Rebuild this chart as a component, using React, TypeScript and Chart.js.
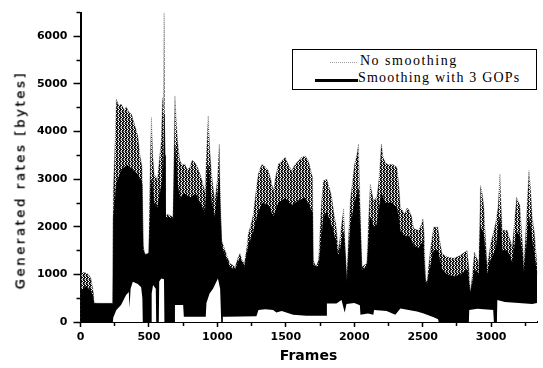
import React, { useEffect, useRef } from 'react';
import { Chart, registerables } from 'chart.js';

Chart.register(...registerables);

// Frame axis and rate axis limits / tick steps
const frameMax = 3340;
const frameStep = 250;
const frameLabelStep = 500;
const rateMax = 6500;
const rateStep = 500;
const rateLabelStep = 1000;

// "No smoothing": upper envelope of the per-frame rates [frame, bytes]
const noSmoothingPeaks: [number, number][] = [
  [0, 1000], [10, 1050], [40, 1030], [60, 1000], [79, 900], [95, 600], [99, 400], [150, 390], [236, 390],
  [240, 2800], [250, 3600], [262, 4680], [280, 4550], [299, 4580], [320, 4450], [335, 4520], [355, 4400],
  [372, 4370], [401, 4090], [420, 3900], [433, 3530], [450, 3250], [458, 1600], [470, 1440], [485, 1400],
  [499, 1470], [510, 3500], [518, 4300], [528, 3500], [538, 3110], [562, 2990], [580, 3530], [590, 3800],
  [599, 4710], [606, 4500], [611, 6500], [616, 3200], [621, 2270], [650, 2250], [677, 2200], [684, 3800],
  [690, 4750], [700, 4200], [709, 3810], [726, 3390], [745, 3300], [763, 3320], [780, 3200], [799, 3250],
  [815, 3400], [836, 3350], [855, 3250], [873, 3110], [890, 2950], [909, 2730], [920, 3500], [933, 4330],
  [945, 3600], [958, 3110], [970, 2800], [982, 2550], [1000, 3000], [1014, 3740], [1022, 2500], [1031, 1715],
  [1056, 1506], [1075, 1350], [1092, 1230], [1110, 1200], [1129, 1157], [1150, 1350], [1165, 1440],
  [1180, 1300], [1197, 1230], [1212, 1500], [1226, 1855], [1245, 2050], [1263, 2270], [1280, 2700],
  [1299, 3110], [1315, 3250], [1329, 3320], [1350, 3250], [1373, 3180], [1390, 3000], [1409, 2760],
  [1425, 3050], [1446, 3320], [1470, 3380], [1495, 3460], [1520, 3300], [1543, 3180], [1565, 3300],
  [1592, 3390], [1616, 3460], [1641, 3490], [1665, 3390], [1695, 3040], [1700, 1300], [1720, 1160],
  [1739, 1297], [1760, 2500], [1775, 2970], [1799, 3000], [1820, 2800], [1836, 2620], [1850, 2300],
  [1865, 2070], [1885, 1510], [1905, 2000], [1922, 2380], [1935, 1500], [1946, 880], [1958, 1800],
  [1971, 2550], [1985, 2900], [2002, 3320], [2018, 3500], [2031, 3740], [2042, 2500], [2056, 1157],
  [2075, 1200], [2092, 1230], [2105, 2200], [2117, 2900], [2130, 2700], [2141, 2550], [2165, 2620],
  [2180, 3000], [2198, 3740], [2212, 3450], [2227, 3350], [2250, 3300], [2275, 3320], [2295, 3280],
  [2312, 3250], [2325, 2900], [2337, 2410], [2368, 2270], [2385, 2400], [2403, 2340], [2420, 2200],
  [2434, 1960], [2471, 1930], [2490, 2050], [2502, 2170], [2512, 1800], [2520, 880], [2531, 843],
  [2555, 1500], [2580, 1995], [2610, 1995], [2625, 1700], [2641, 1437], [2678, 1366], [2727, 1340],
  [2776, 1400], [2824, 1506], [2836, 1200], [2849, 600], [2862, 1000], [2878, 1470], [2910, 1230],
  [2916, 2000], [2922, 2866], [2935, 2700], [2947, 2410], [2960, 1700], [2971, 1160], [2996, 1646],
  [3032, 2064], [3050, 2400], [3064, 3110], [3072, 2500], [3081, 1925], [3117, 1925], [3154, 1576],
  [3170, 2100], [3186, 2620], [3210, 2450], [3225, 1800], [3240, 1230], [3258, 2200], [3276, 3180],
  [3288, 2800], [3300, 2200], [3315, 1900], [3327, 1500], [3335, 1200],
];

// "Smoothing with 3 GOPs": top of the dense (solid black) band [frame, bytes]
const smoothedBand: [number, number][] = [
  [0, 650], [40, 750], [79, 650], [95, 450], [99, 390], [236, 390], [240, 2200], [262, 2900], [300, 3200],
  [340, 3300], [380, 3200], [420, 3100], [450, 2900], [458, 1500], [470, 1420], [499, 1440], [518, 3000],
  [538, 2500], [562, 2400], [580, 2700], [599, 3000], [608, 3500], [612, 4370], [618, 3500], [621, 2200],
  [677, 2180], [690, 3700], [709, 2900], [726, 2600], [760, 2700], [800, 2600], [840, 2700], [873, 2500],
  [909, 2300], [933, 3300], [958, 2500], [982, 2200], [1014, 3000], [1031, 1600], [1056, 1400], [1092, 1150],
  [1129, 1100], [1165, 1350], [1197, 1150], [1226, 1600], [1263, 1900], [1299, 2300], [1329, 2500],
  [1373, 2450], [1409, 2200], [1446, 2500], [1495, 2600], [1543, 2450], [1592, 2550], [1641, 2600],
  [1695, 2300], [1700, 1200], [1739, 1150], [1775, 2200], [1799, 2300], [1836, 2000], [1865, 1700],
  [1885, 1350], [1922, 1900], [1946, 850], [1971, 2000], [2002, 2500], [2031, 2800], [2056, 1100],
  [2092, 1150], [2117, 2200], [2141, 2000], [2165, 2050], [2198, 2700], [2227, 2500], [2275, 2500],
  [2312, 2400], [2337, 1900], [2368, 1800], [2403, 1800], [2434, 1600], [2471, 1550], [2502, 1700],
  [2520, 850], [2531, 800], [2580, 1500], [2610, 1500], [2641, 1100], [2678, 1000], [2727, 950],
  [2776, 1000], [2824, 1100], [2849, 600], [2878, 1100], [2910, 1000], [2922, 2000], [2947, 1800],
  [2971, 1000], [2996, 1300], [3032, 1500], [3064, 2200], [3081, 1500], [3117, 1500], [3154, 1250],
  [3186, 1900], [3210, 1800], [3240, 1050], [3276, 2200], [3300, 1700], [3327, 1200], [3335, 1000],
];

// lower envelope of the rates (minimum generated rate) [frame, bytes]
const rateFloor: [number, number][] = [
  [0, 0], [236, 0], [240, 100], [262, 250], [296, 355], [333, 565], [353, 630], [358, 300], [366, 700],
  [382, 843], [419, 800], [443, 730], [452, 500], [455, 0], [516, 0], [520, 600], [530, 775], [550, 700],
  [553, 0], [572, 0], [575, 850], [590, 913], [610, 900], [613, 0], [687, 0], [690, 355], [750, 355],
  [755, 110], [915, 110], [920, 400], [943, 600], [968, 700], [1004, 913], [1020, 700], [1028, 0],
  [1036, 0], [1040, 110], [1065, 110], [1285, 120], [1300, 250], [1350, 270], [1407, 250], [1431, 200],
  [1470, 230], [1553, 150], [1650, 130], [1797, 130], [1800, 390], [1870, 390], [1907, 460], [1930, 200],
  [1943, 380], [2000, 400], [2041, 350], [2045, 150], [2100, 180], [2139, 150], [2145, 250], [2236, 230],
  [2300, 150], [2337, 285], [2397, 250], [2458, 220], [2507, 180], [2580, 100], [2612, 60], [2617, 0],
  [2837, 0], [2840, 250], [2900, 280], [3015, 250], [3020, 0], [3042, 0], [3045, 460], [3100, 420],
  [3200, 400], [3300, 380], [3335, 400],
];

const toPoints = (pairs: [number, number][]) => pairs.map(([x, y]) => ({ x, y }));

const tickFont = { family: 'DejaVu Sans', weight: 'bold' as const, size: 11 };

export default function App() {
  const ref = useRef<HTMLCanvasElement>(null);

  useEffect(() => {
    const canvas = ref.current!;
    const ctx = canvas.getContext('2d')!;
    // dotted, vertically streaked texture for the unsmoothed trace
    const tile = document.createElement('canvas');
    tile.width = 3;
    tile.height = 4;
    const t = tile.getContext('2d')!;
    t.fillStyle = '#ffffff';
    t.fillRect(0, 0, 3, 4);
    t.fillStyle = '#111111';
    [[0, 0], [0, 1], [0, 2], [2, 0], [2, 2], [2, 3], [1, 1]].forEach(([px, py]) => t.fillRect(px, py, 1, 1));
    t.fillStyle = '#9a9a9a';
    [[1, 3], [0, 3]].forEach(([px, py]) => t.fillRect(px, py, 1, 1));
    const dotted = ctx.createPattern(tile, 'repeat')!;

    const chart = new Chart(canvas, {
      type: 'line',
      data: {
        datasets: [
          {
            label: 'floor',
            data: toPoints(rateFloor),
            fill: 'origin',
            backgroundColor: '#ffffff',
            borderWidth: 0,
            pointRadius: 0,
            order: 0,
          },
          {
            label: 'Smoothing with 3 GOPs',
            data: toPoints(smoothedBand),
            fill: 'origin',
            backgroundColor: '#000000',
            borderColor: '#000000',
            borderWidth: 0.5,
            pointRadius: 0,
            order: 1,
          },
          {
            label: 'No smoothing',
            data: toPoints(noSmoothingPeaks),
            fill: 'origin',
            backgroundColor: dotted,
            borderColor: '#666666',
            borderWidth: 0.6,
            borderDash: [1, 1],
            pointRadius: 0,
            order: 2,
          },
        ],
      },
      options: {
        animation: false,
        responsive: false,
        maintainAspectRatio: false,
        devicePixelRatio: 1,
        layout: { padding: { top: 11, right: 5.3, left: 0, bottom: 0 } },
        plugins: { legend: { display: false }, tooltip: { enabled: false } },
        elements: { line: { tension: 0 } },
        scales: {
          x: {
            type: 'linear',
            position: 'bottom',
            min: 0,
            max: frameMax,
            z: 1,
            border: { display: true, color: '#000', width: 2 },
            grid: {
              display: true,
              drawOnChartArea: false,
              drawTicks: true,
              tickLength: 5,
              tickWidth: 1.5,
              tickColor: '#000',
              tickBorderDash: (c: any) => (c.tick && c.tick.value % frameLabelStep !== 0 ? [3, 100] : []),
            },
            ticks: {
              stepSize: frameStep,
              includeBounds: false,
              autoSkip: false,
              maxRotation: 0,
              padding: 4,
              color: '#000',
              font: tickFont,
              callback: (v: any) => (Number(v) % frameLabelStep === 0 ? String(v) : ''),
            },
            afterFit: (s: any) => {
              s.height = 46;
            },
          },
          y: {
            type: 'linear',
            position: 'left',
            min: 0,
            max: rateMax,
            z: 1,
            border: { display: true, color: '#000', width: 2 },
            grid: {
              display: true,
              drawOnChartArea: false,
              drawTicks: true,
              tickLength: 7,
              tickWidth: 1.5,
              tickColor: '#000',
              tickBorderDash: (c: any) => (c.tick && c.tick.value % rateLabelStep !== 0 ? [0, 3, 4, 100] : []),
            },
            ticks: {
              stepSize: rateStep,
              includeBounds: false,
              autoSkip: false,
              padding: 6,
              color: '#000',
              font: tickFont,
              callback: (v: any) => (Number(v) % rateLabelStep === 0 ? String(v) : ''),
            },
            afterFit: (s: any) => {
              s.width = 80.5;
            },
          },
        },
      },
    });
    return () => chart.destroy();
  }, []);

  return (
    <div style={{ position: 'absolute', left: 0, top: 0, width: 543, height: 368, background: '#fff' }}>
      <canvas ref={ref} width={543} height={368} style={{ display: 'block', width: 543, height: 368 }} />
      <div
        style={{
          position: 'absolute', left: 19.5, top: 180, transform: 'translate(-50%, -50%) rotate(-90deg)',
          font: '13px "DejaVu Sans"', letterSpacing: '2.7px', whiteSpace: 'nowrap', lineHeight: '13px', color: '#000',
          WebkitTextStroke: '0.35px #000',
        }}
      >
        Generated rates [bytes]
      </div>
      <div
        style={{
          position: 'absolute', left: 308.5, top: 348, transform: 'translateX(-50%)',
          font: 'bold 14px "DejaVu Sans"', lineHeight: '14px', whiteSpace: 'nowrap', color: '#000',
        }}
      >
        Frames
      </div>
      <div
        style={{
          position: 'absolute', left: 291.5, top: 48.5, width: 245.5, height: 41.5, border: '1.5px solid #000',
          boxSizing: 'border-box', background: '#fff',
        }}
      />
      <div style={{ position: 'absolute', left: 330, top: 62, width: 27, borderTop: '1px dotted #999' }} />
      <div
        style={{
          position: 'absolute', left: 360, top: 54.3, font: '14px "Liberation Serif"', letterSpacing: '1.5px',
          lineHeight: '14px', whiteSpace: 'nowrap', color: '#000',
        }}
      >
        No smoothing
      </div>
      <div style={{ position: 'absolute', left: 315, top: 79, width: 43, height: 2.5, background: '#000' }} />
      <div
        style={{
          position: 'absolute', left: 358, top: 71, font: '14px "Liberation Serif"', letterSpacing: '1.2px',
          lineHeight: '14px', whiteSpace: 'nowrap', color: '#000',
        }}
      >
        Smoothing with 3 GOPs
      </div>
    </div>
  );
}
